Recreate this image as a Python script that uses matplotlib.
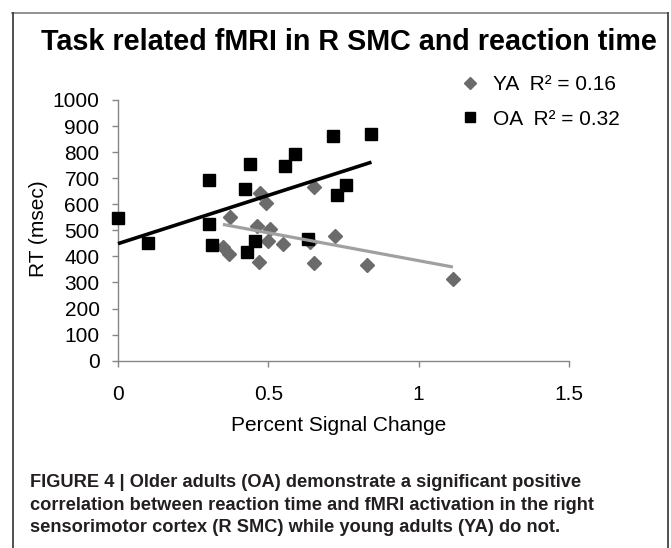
import matplotlib
matplotlib.use("Agg")
import matplotlib.pyplot as plt
from matplotlib.lines import Line2D
from matplotlib import font_manager as fm
import numpy as np

# ---- data ----
ya_x = [0.349, 0.368, 0.373, 0.471, 0.493, 0.462, 0.504, 0.498, 0.549, 0.468,
        0.651, 0.651, 0.640, 0.723, 0.829, 1.114]
ya_y = [435, 409, 551, 642, 604, 517, 504, 460, 448, 380,
        667, 374, 455, 478, 367, 313]
oa_x = [0.000, 0.100, 0.301, 0.304, 0.312, 0.424, 0.439, 0.429, 0.454, 0.557,
        0.590, 0.715, 0.631, 0.727, 0.757, 0.843]
oa_y = [548, 450, 693, 523, 444, 659, 754, 418, 460, 748,
        793, 861, 466, 636, 674, 868]
x_ticks = [0, 0.5, 1, 1.5]
x_tick_labels = ["0", "0.5", "1", "1.5"]
y_ticks = list(range(0, 1001, 100))
legend_labels = ["YA  R\u00b2 = 0.16", "OA  R\u00b2 = 0.32"]
title = "Task related fMRI in R SMC and reaction time"
xlabel = "Percent Signal Change"
ylabel = "RT (msec)"
caption = ["FIGURE 4 | Older adults (OA) demonstrate a significant positive",
           "correlation between reaction time and fMRI activation in the right",
           "sensorimotor cortex (R SMC) while young adults (YA) do not."]

plt.rcParams['font.family'] = ['Liberation Sans', 'DejaVu Sans']

W, H = 671, 548
fig = plt.figure(figsize=(W / 100, H / 100), dpi=100)
fig.patch.set_facecolor('white')

def fx(px):
    return px / W

def fy(py):
    return 1 - py / H

ax = fig.add_axes([fx(118), fy(360.7), 451 / W, 260.7 / H])
ax.set_xlim(0, 1.5)
ax.set_ylim(0, 1000)
ax.set_xticks(x_ticks)
ax.set_xticklabels(x_tick_labels)
ax.set_yticks(y_ticks)
for s in ['top', 'right']:
    ax.spines[s].set_visible(False)
for s in ['left', 'bottom']:
    ax.spines[s].set_color('#868686')
    ax.spines[s].set_linewidth(1.0)
ax.tick_params(axis='both', direction='out', length=4.3, width=1.0,
               color='#868686', labelsize=15, labelcolor='black')
ax.tick_params(axis='y', pad=9.0)
ax.tick_params(axis='x', pad=13)

ya_col = '#6b6b6b'

# markers
ax.plot(ya_x, ya_y, ls='none', marker='D', ms=6.8, color=ya_col, mec=ya_col,
        clip_on=False, zorder=3)
ax.plot(oa_x, oa_y, ls='none', marker='s', ms=8.5, color='black', mec='black',
        clip_on=False, zorder=4)

# trend lines (least squares over the data range)
for xs, ys, col, lw in [(ya_x, ya_y, '#a0a0a0', 2.3), (oa_x, oa_y, 'black', 2.6)]:
    k, b = np.polyfit(xs, ys, 1)
    xx = np.array([min(xs), max(xs)])
    ax.plot(xx, k * xx + b, color=col, lw=lw, solid_capstyle='butt',
            zorder=5, clip_on=False)

# legend
handles = [Line2D([], [], ls='none', marker='D', ms=6.6, color=ya_col),
           Line2D([], [], ls='none', marker='s', ms=7.7, color='black')]
fig.legend(handles, legend_labels, loc='upper left',
           bbox_to_anchor=(fx(459.6), fy(75)), frameon=False, fontsize=15,
           handlelength=1.0, handletextpad=0.6, labelspacing=0.75,
           borderpad=0, borderaxespad=0)

# axis labels
fig.text(fx(39), fy(229), ylabel, rotation=90, ha='center', va='center',
         fontsize=15)
fig.text(fx(339), fy(430.7), xlabel, ha='center', va='baseline', fontsize=15)

# title, fitted to width
renderer = fig.canvas.get_renderer()
t = fig.text(fx(349), fy(50), title, ha='center', va='baseline',
             fontsize=20, fontweight='bold')
w = t.get_window_extent(renderer).width
t.set_fontsize(20 * 616 / w)

# caption
names = {f.name for f in fm.fontManager.ttflist}
cap_family = 'Liberation Sans Narrow' if 'Liberation Sans Narrow' in names else 'Liberation Sans'
cap_texts = []
for i, line in enumerate(caption):
    ct = fig.text(fx(30), fy(487 + 22.5 * i), line, ha='left', va='baseline',
                  fontsize=12, fontweight='bold', color='#231f20',
                  family=[cap_family, 'DejaVu Sans'])
    cap_texts.append(ct)
w2 = cap_texts[1].get_window_extent(renderer).width
for ct in cap_texts:
    ct.set_fontsize(12 * 560 / w2)

# frame around figure panel
fig.add_artist(Line2D([fx(12), fx(668)], [fy(12.5), fy(12.5)],
                      transform=fig.transFigure, color='#7f7f7f', lw=1.2))
fig.add_artist(Line2D([fx(12.5), fx(12.5)], [fy(12.5), 0],
                      transform=fig.transFigure, color='#333333', lw=1.2))
fig.add_artist(Line2D([fx(667.5), fx(667.5)], [fy(12.5), 0],
                      transform=fig.transFigure, color='#333333', lw=1.2))

fig.savefig('out.png', dpi=100, facecolor='white')
